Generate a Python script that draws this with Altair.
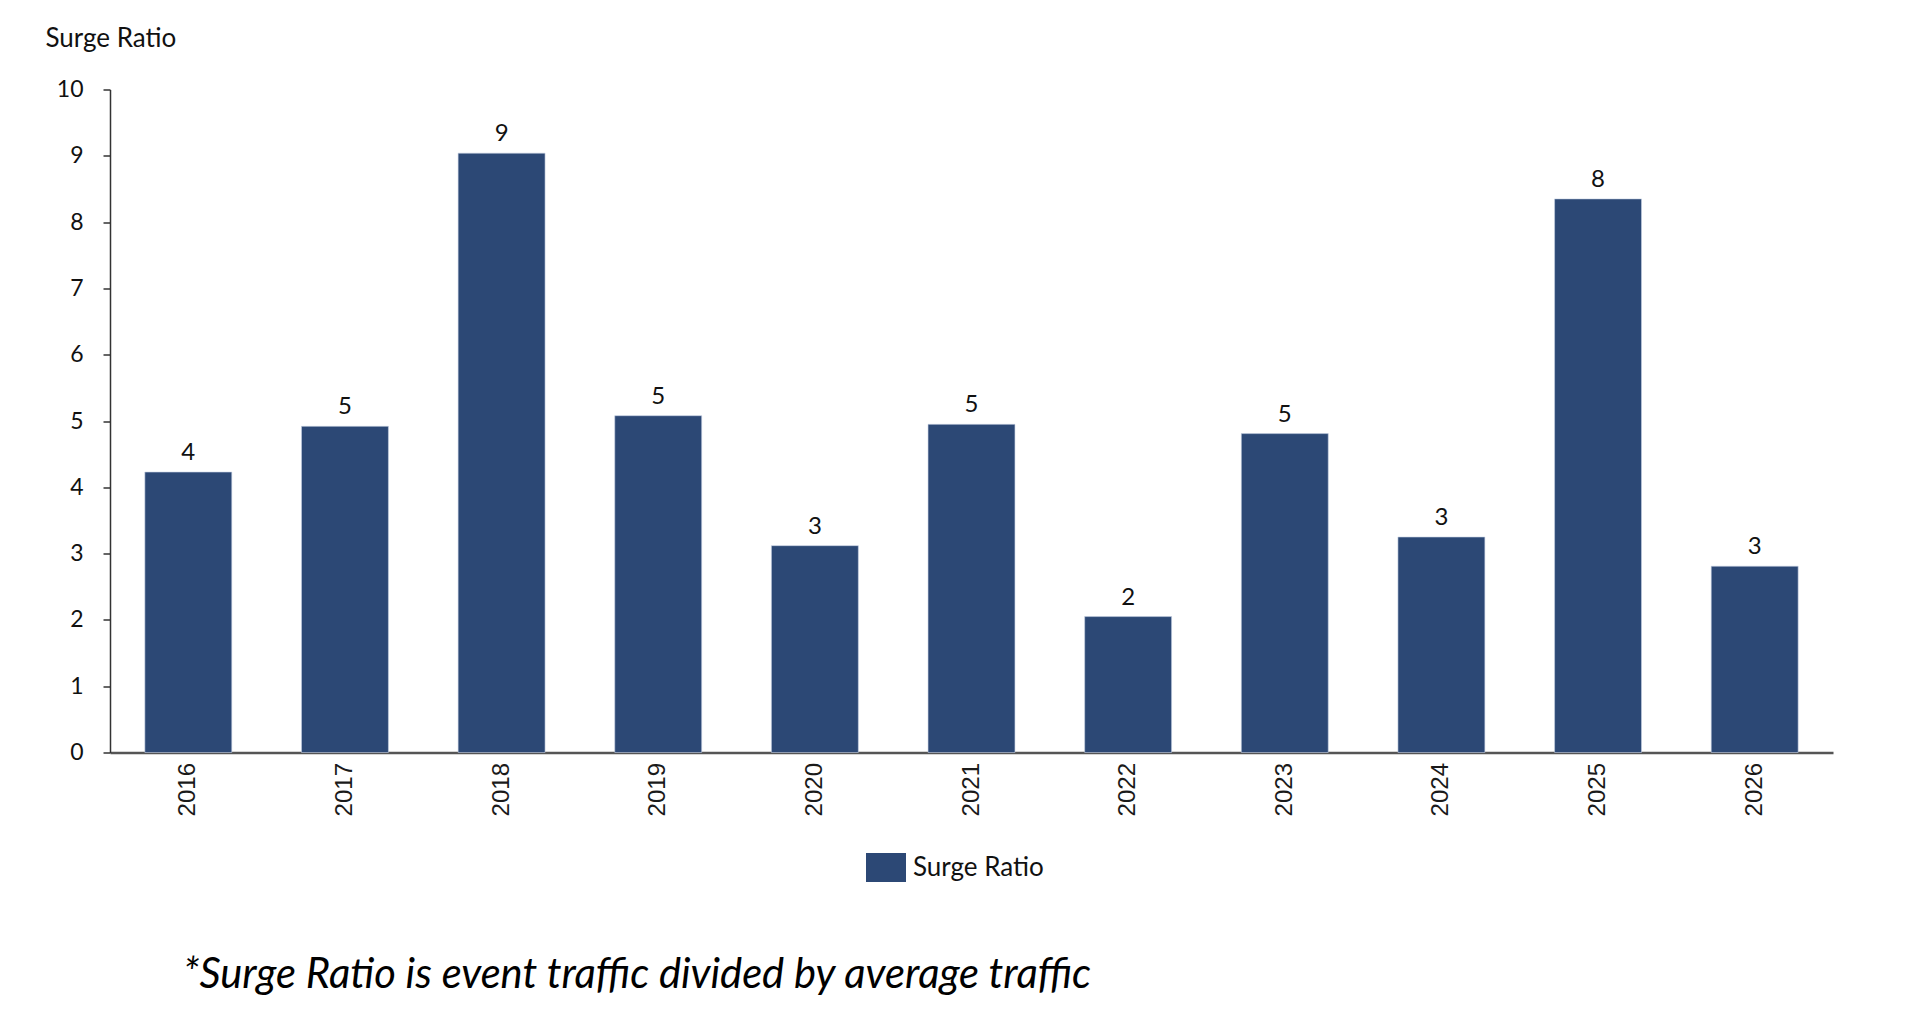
import altair as alt
import pandas as pd

years = ["2016", "2017", "2018", "2019", "2020", "2021", "2022", "2023", "2024", "2025", "2026"]
surge = [4.23, 4.92, 9.04, 5.08, 3.12, 4.95, 2.05, 4.81, 3.25, 8.35, 2.81]
series_name = "Surge Ratio"
y_ticks = [0, 1, 2, 3, 4, 5, 6, 7, 8, 9, 10]
caption = "*Surge Ratio is event traffic divided by average traffic"

df = pd.DataFrame({"year": years, "value": surge, "series": [series_name] * len(years)})

BAR = "#2C4875"
FONT = "Lato"

x_enc = alt.X(
    "year:N",
    sort=years,
    scale=alt.Scale(paddingInner=0.445, paddingOuter=0.2225),
    axis=alt.Axis(
        title=None,
        labelAngle=270,
        labelFont="Liberation Sans",
        labelFontSize=24,
        labelColor="#1a1a1a",
        labelPadding=10,
        ticks=False,
        domainColor="#555555",
        domainWidth=2.5,
    ),
)
y_enc = alt.Y(
    "value:Q",
    scale=alt.Scale(domain=[0, 10], nice=False),
    axis=alt.Axis(
        title=series_name,
        values=y_ticks,
        format="d",
        grid=False,
        titleAngle=0,
        titleAlign="left",
        titleBaseline="middle",
        titleX=-65,
        titleY=-51,
        titleFont=FONT,
        titleFontSize=26,
        titleFontWeight="normal",
        titleColor="#111111",
        labelFont=FONT,
        labelFontSize=23,
        labelColor="#111111",
        labelPadding=20,
        tickSize=7,
        tickColor="#333333",
        tickWidth=1.5,
        domainColor="#333333",
        domainWidth=1.5,
    ),
)

bars = alt.Chart(df).mark_bar(stroke="#c8d2e4", strokeWidth=0.6).encode(
    x=x_enc,
    y=y_enc,
    color=alt.Color(
        "series:N",
        scale=alt.Scale(domain=[series_name], range=[BAR]),
        legend=alt.Legend(
            title=None,
            orient="none",
            legendX=756,
            legendY=758,
            padding=0,
            symbolType="M-1,-0.72L1,-0.72L1,0.72L-1,0.72Z",
            symbolSize=1600,
            symbolStrokeWidth=0,
            symbolOpacity=1,
            labelFont=FONT,
            labelFontSize=26,
            labelColor="#111111",
            labelOffset=7,
        ),
    ),
)

labels = alt.Chart(df).mark_text(
    baseline="bottom", dy=-7, font=FONT, fontSize=24, color="#111111"
).encode(
    x=alt.X("year:N", sort=years),
    y=alt.Y("value:Q"),
    text=alt.Text("value:Q", format=".0f"),
)

chart = (
    alt.layer(bars, labels)
    .properties(
        width=1723,
        height=663,
        autosize=alt.AutoSizeParams(type="none"),
        padding={"left": 102, "top": 81.5, "right": 79, "bottom": 248},
        title=alt.TitleParams(
            text=caption,
            orient="bottom",
            anchor="start",
            frame="group",
            font=FONT,
            fontSize=41.7,
            fontStyle="italic",
            fontWeight="normal",
            color="#000000",
            dx=73,
            offset=72,
        ),
    )
    .configure_view(stroke=None)
)

chart.save("out.html", embed_options={"renderer": "svg", "actions": False})
